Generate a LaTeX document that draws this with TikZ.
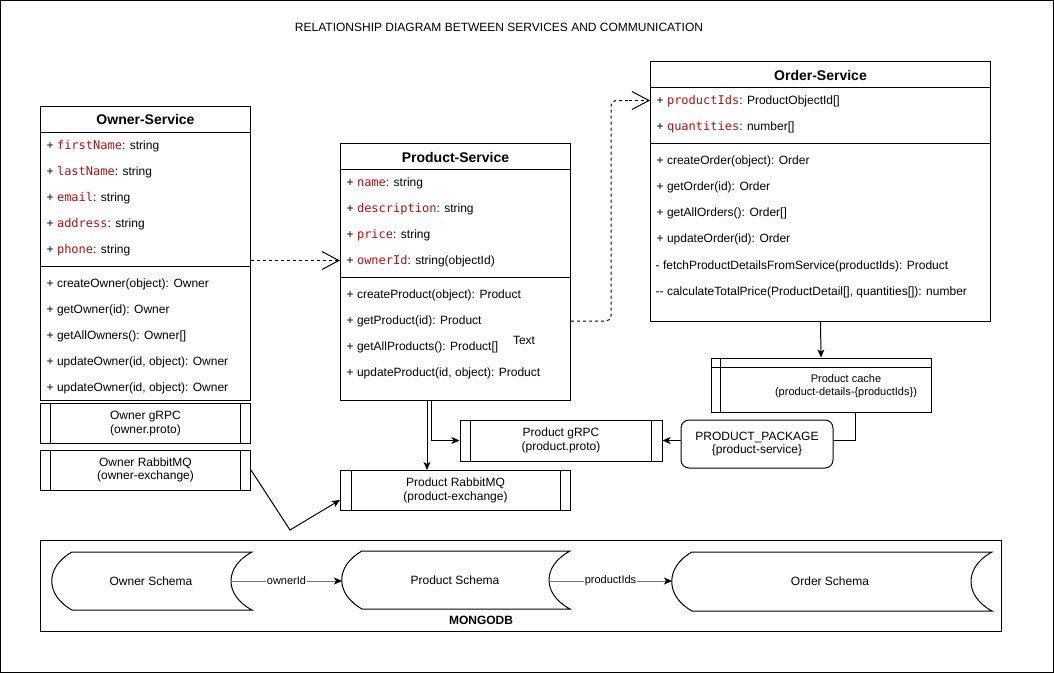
\documentclass[tikz,border=0pt]{standalone}
\usepackage{fontspec}
\setmainfont{Liberation Sans}
\newfontfamily\codefont{DejaVu Sans Mono}
\usetikzlibrary{arrows.meta}
\definecolor{attrred}{HTML}{A31515}

% attribute line: "+ name: type" with the name in red code font
\newcommand\attrline[2]{+ {\codefont\color{attrred}#1}: #2}

\tikzset{
  box/.style={draw, line width=1pt, fill=white, inner sep=0pt},
  rbox/.style={box, rounded corners=8pt},
  hd/.style={inner sep=0pt, font=\bfseries\fontsize{14}{16}\selectfont},
  txt/.style={inner sep=0pt, anchor=west},
  ctr/.style={inner sep=0pt, align=center},
  small/.style={font=\fontsize{11}{13}\selectfont},
  lbl/.style={fill=white, inner sep=1pt, font=\fontsize{11}{13}\selectfont},
  arr/.style={line width=1pt, -{Stealth[length=8pt,width=7pt,inset=2pt]}},
  openarr/.style={line width=1pt, dash pattern=on 3pt off 3pt,
    -{Straight Barb[length=17pt,width=18pt,line width=1pt]}},
  dbarr/.style={line width=0.8pt, draw=black!55,
    -{Stealth[length=8pt,width=7pt,inset=2pt,color=black]}},
}

% vertical bars just inside the left and right edges of a process box
\newcommand\procbars[2]{%
  \draw[line width=1pt] ([xshift=#2]#1.north west) -- ([xshift=#2]#1.south west);
  \draw[line width=1pt] ([xshift=-#2]#1.north east) -- ([xshift=-#2]#1.south east);}

% storage shape: convex left side, concave right side
\newcommand\storage[4]{% left x, right x, top y, bottom y
  \draw[line width=1pt, fill=white]
    ({#1+20},#3) -- (#2,#3)
    .. controls ({#2-28},{#3+15}) and ({#2-28},{#4-15}) .. (#2,#4)
    -- ({#1+20},#4)
    .. controls ({#1-7},{#4-15}) and ({#1-7},{#3+15}) .. ({#1+20},#3) -- cycle;}

\begin{document}
\begin{tikzpicture}[x=1pt, y=-1pt, font=\fontsize{12}{13.5}\selectfont]
\useasboundingbox (0,0) rectangle (1054,673);
\draw[line width=1pt] (0.5,0.5) rectangle (1053.5,672.5);

\node[ctr] (title) at (499,27) {RELATIONSHIP DIAGRAM BETWEEN SERVICES AND COMMUNICATION};

% ---------------- Owner-Service ----------------
\node[box, minimum width=210, minimum height=294] (owner) at (145.5,253.5) {};
\draw[line width=1pt] (owner.west |- 0,132) -- (owner.east |- 0,132);
\draw[line width=1pt] (owner.west |- 0,266.5) -- (owner.east |- 0,266.5);
\node[hd] (ownerhd) at (145.5,119.5) {Owner-Service};
\node[txt] (o1) at (46.5,146) {\attrline{firstName}{string}};
\node[txt] (o2) at (46.5,172) {\attrline{lastName}{string}};
\node[txt] (o3) at (46.5,198) {\attrline{email}{string}};
\node[txt] (o4) at (46.5,224) {\attrline{address}{string}};
\node[txt] (o5) at (46.5,250) {\attrline{phone}{string}};
\node[txt] (om1) at (46.5,284) {+ createOwner(object): Owner};
\node[txt] (om2) at (46.5,310) {+ getOwner(id): Owner};
\node[txt] (om3) at (46.5,336) {+ getAllOwners(): Owner[]};
\node[txt] (om4) at (46.5,362) {+ updateOwner(id, object): Owner};
\node[txt] (om5) at (46.5,388) {+ updateOwner(id, object): Owner};

% ---------------- Product-Service ----------------
\node[box, minimum width=230, minimum height=257] (product) at (455.5,272) {};
\draw[line width=1pt] (product.west |- 0,169.5) -- (product.east |- 0,169.5);
\draw[line width=1pt] (product.west |- 0,277.5) -- (product.east |- 0,277.5);
\node[hd] (producthd) at (455.5,157) {Product-Service};
\node[txt] (p1) at (346.5,183) {\attrline{name}{string}};
\node[txt] (p2) at (346.5,209) {\attrline{description}{string}};
\node[txt] (p3) at (346.5,235) {\attrline{price}{string}};
\node[txt] (p4) at (346.5,261) {\attrline{ownerId}{string(objectId)}};
\node[txt] (pm1) at (346.5,295) {+ createProduct(object): Product};
\node[txt] (pm2) at (346.5,321) {+ getProduct(id): Product};
\node[txt] (pm3) at (346.5,347) {+ getAllProducts(): Product[]};
\node[txt] (pm4) at (346.5,373) {+ updateProduct(id, object): Product};
\node[ctr] (ptext) at (524,340) {Text};

% ---------------- Order-Service ----------------
\node[box, minimum width=340, minimum height=259.5] (order) at (820.5,191.25) {};
\draw[line width=1pt] (order.west |- 0,87.5) -- (order.east |- 0,87.5);
\draw[line width=1pt] (order.west |- 0,143.5) -- (order.east |- 0,143.5);
\node[hd] (orderhd) at (820.5,75) {Order-Service};
\node[txt] (r1) at (656.5,101) {\attrline{productIds}{ProductObjectId[]}};
\node[txt] (r2) at (656.5,127) {\attrline{quantities}{number[]}};
\node[txt] (rm1) at (656.5,161) {+ createOrder(object): Order};
\node[txt] (rm2) at (656.5,187) {+ getOrder(id): Order};
\node[txt] (rm3) at (656.5,213) {+ getAllOrders(): Order[]};
\node[txt] (rm4) at (656.5,239) {+ updateOrder(id): Order};
\node[txt] (rm5) at (655.5,266) {- fetchProductDetailsFromService(productIds): Product};
\node[txt] (rm6) at (655.5,292) {-{}- calculateTotalPrice(ProductDetail[], quantities[]): number};

% ---------------- messaging boxes ----------------
\node[box, minimum width=210, minimum height=40] (ogrpc) at (145.5,423.5) {};
\procbars{ogrpc}{10.5pt}
\node[ctr] at (ogrpc.center) {Owner gRPC\\(owner.proto)};

\node[box, minimum width=210, minimum height=40] (ormq) at (145.5,470) {};
\procbars{ormq}{10.5pt}
\node[ctr] at (ormq.center) {Owner RabbitMQ\\(owner-exchange)};

\node[box, minimum width=202, minimum height=41] (pgrpc) at (561,440.5) {};
\procbars{pgrpc}{11pt}
\node[ctr] at (pgrpc.center) {Product gRPC\\(product.proto)};

\node[box, minimum width=230, minimum height=40] (prmq) at (455.5,490.5) {};
\procbars{prmq}{11pt}
\node[ctr] at (prmq.center) {Product RabbitMQ\\(product-exchange)};

% cache (internal storage)
\node[box, minimum width=220, minimum height=54] (cache) at (821,385) {};
\draw[line width=1pt] ([xshift=10pt]cache.north west) -- ([xshift=10pt]cache.south west);
\draw[line width=1pt] ([yshift=-10pt]cache.north west) -- ([yshift=-10pt]cache.north east);
\node[ctr, small] (cachetxt) at (846,386.5) {Product cache\\(product-details-\{productIds\})};

\node[rbox, minimum width=152, minimum height=48] (pkg) at (757,444) {};
\node[ctr] at (pkg.center) {PRODUCT\_PACKAGE\\\{product-service\}};

% ---------------- connectors between services ----------------
\draw[openarr] (owner.east |- 0,260.5) -- (product.west |- 0,260.5);
\draw[line width=1pt, dash pattern=on 3pt off 3pt, rounded corners=5pt]
  (product.east |- 0,321) -- (611,321) -- (611,100.5) -- (630,100.5);
\draw[openarr] (629,100.5) -- (order.west |- 0,100.5);
\draw[arr] (order.south) -- (cache.north);
\draw[line width=1pt] (cache.south -| 855,0) -- (855,440.5) -- (pkg.east |- 0,440.5);
\draw[arr] (pkg.west |- 0,440.5) -- (pgrpc.east |- 0,440.5);
\draw[arr] (product.south -| 427,0) -- (prmq.north -| 427,0);
\draw[arr] (product.south -| 431,0) -- (431,440.5) -- (pgrpc.west |- 0,440.5);
\draw[arr] (ormq.east |- 0,470) -- (290,530) -- (prmq.west |- 0,500);

% ---------------- database ----------------
\node[box, minimum width=961, minimum height=91] (mongo) at (520.5,585.5) {};
\node[font=\bfseries\fontsize{12}{14}\selectfont, inner sep=0pt] (mongolbl) at (481,620) {MONGODB};

\storage{52}{252}{552}{610}
\node[ctr] (owns) at (151,581) {Owner Schema};
\coordinate (ownsR) at (231,581);

\storage{342}{570}{551}{609}
\node[ctr] (prods) at (455,580) {Product Schema};
\coordinate (prodsL) at (342,581);
\coordinate (prodsR) at (549,581);

\storage{672}{992}{552}{611}
\node[ctr] (ords) at (830,581) {Order Schema};
\coordinate (ordsL) at (672,581);

\draw[dbarr] (ownsR) -- node[lbl] {ownerId} (prodsL);
\draw[dbarr] (prodsR) -- node[lbl] {productIds} (ordsL);
\end{tikzpicture}
\end{document}
